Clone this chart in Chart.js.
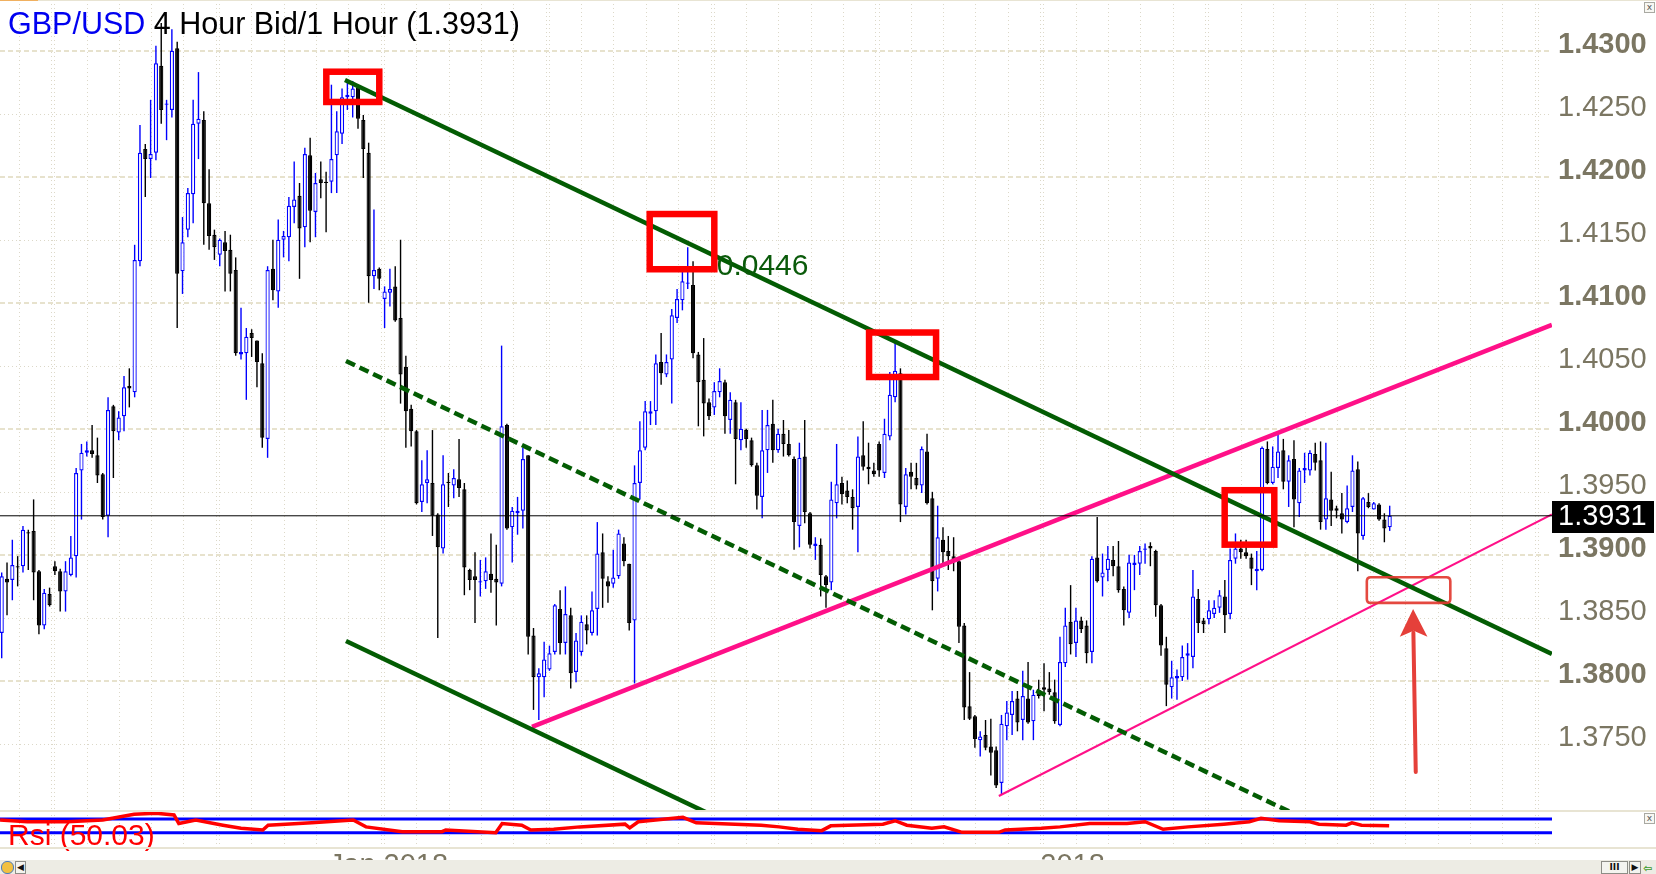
<!DOCTYPE html>
<html>
<head>
<meta charset="utf-8">
<title>GBP/USD 4 Hour</title>
<script src="https://cdn.jsdelivr.net/npm/chart.js@4.4.1/dist/chart.umd.min.js"></script>
<style>
  html, body { margin: 0; padding: 0; background: #fff; }
  #wrap { position: relative; width: 1656px; height: 874px; overflow: hidden; background: #fff; }
  canvas { position: absolute; left: 0; }
  #price { top: 0; }
  #rsi { top: 811px; }
  .sep { position: absolute; left: 0; width: 1656px; height: 2px; background: #e8e4d3; }
  #scroll { position: absolute; left: 0; top: 860px; width: 1656px; height: 14px; background: #edece4; }
  .btn { position: absolute; top: 1px; height: 11px; border: 1px solid #8d8d86; background: #f4f4ef;
         font: bold 9px "DejaVu Sans", sans-serif; color: #111; text-align: center; line-height: 11px; }
  .xbox { position: absolute; left: 1644px; width: 9px; height: 9px; border: 1px solid #a9a9a2; background: #f7f7f2;
          font: 9px "DejaVu Sans", sans-serif; line-height: 8px; text-align: center; color: #555; }
</style>
</head>
<body>
<div id="wrap">
  <canvas id="price" width="1656" height="811"></canvas>
  <canvas id="rsi" width="1656" height="63"></canvas>
  <div class="sep" style="top:0;height:1px"></div>
  <div class="sep" style="top:0;width:38px;height:1px;background:#f0b060"></div>
  <div class="sep" style="top:810px"></div>
  <div class="sep" style="top:847px"></div>
  <div class="xbox" style="top:2px">x</div>
  <div class="xbox" style="top:813px">x</div>
  <div id="scroll">
    <div style="position:absolute;left:1px;top:1px;width:11px;height:11px;border-radius:6px;background:#f2c040;border:1px solid #4a7cc0"></div>
    <div class="btn" style="left:15px;width:9px">&#9664;</div>
    <div class="btn" style="left:1601px;width:25px">III</div>
    <div class="btn" style="left:1629px;width:10px">&#9654;</div>
    <div style="position:absolute;left:1643px;top:2px;font:bold 11px 'DejaVu Sans';color:#3a9a2a">&#8678;</div>
  </div>
</div>
<script>
// ---- candles (4 hour) ----
const opens = [
  1.3838,1.3881,1.3880,1.3891,1.3891,1.3918,1.3919,1.3887,1.3844,1.3869,
  1.3891,1.3887,1.3871,1.3884,1.3899,1.3967,1.3981,1.3983,1.3979,1.3964,
  1.3931,1.4018,1.3997,1.4010,1.4034,1.4029,1.4133,1.4222,1.4214,1.4219,
  1.4288,1.4257,1.4253,1.4302,1.4125,1.4158,1.4186,1.4242,1.4245,1.4179,
  1.4154,1.4138,1.4148,1.4142,1.4126,1.4059,1.4060,1.4076,1.4070,1.4052,
  1.3992,1.4127,1.4109,1.4150,1.4152,1.4176,1.4185,1.4160,1.4217,1.4172,
  1.4198,1.4196,1.4196,1.4217,1.4234,1.4263,1.4263,1.4271,1.4245,1.4219,
  1.4121,1.4127,1.4103,1.4108,1.4113,1.4088,1.4049,1.4016,1.3998,1.3942,
  1.3957,1.3957,1.3932,1.3905,1.3958,1.3955,1.3960,1.3952,1.3888,1.3883,
  1.3878,1.3879,1.3885,1.3881,1.3877,1.4003,1.3922,1.3933,1.3935,1.3979,
  1.3836,1.3803,1.3803,1.3809,1.3823,1.3857,1.3830,1.3852,1.3807,1.3823,
  1.3845,1.3838,1.3857,1.3902,1.3879,1.3877,1.3883,1.3909,1.3893,1.3848,
  1.3957,1.3985,1.4012,1.4014,1.4053,1.4043,1.4055,1.4088,1.4102,1.4115,
  1.4114,1.4059,1.4039,1.4021,1.4017,1.4029,1.4037,1.4007,1.4021,1.3991,
  1.3999,1.3991,1.3971,1.3946,1.3983,1.4004,1.3983,1.3996,1.3988,1.3976,
  1.3923,1.3978,1.3933,1.3907,1.3908,1.3883,1.3878,1.3941,1.3957,1.3951,
  1.3946,1.3938,1.3979,1.3970,1.3967,1.3988,1.3965,1.3994,1.4025,1.4044,
  1.3938,1.3966,1.3961,1.3955,1.3982,1.3945,1.3881,1.3912,1.3903,1.3899,
  1.3895,1.3844,1.3780,1.3772,1.3753,1.3757,1.3748,1.3745,1.3719,1.3764,
  1.3773,1.3786,1.3769,1.3786,1.3768,1.3793,1.3795,1.3794,1.3791,1.3765,
  1.3814,1.3847,1.3830,1.3848,1.3844,1.3823,1.3898,1.3882,1.3888,1.3896,
  1.3891,1.3873,1.3854,1.3892,1.3893,1.3904,1.3907,1.3903,1.3860,1.3826,
  1.3795,1.3802,1.3803,1.3820,1.3819,1.3865,1.3848,1.3849,1.3853,1.3858,
  1.3867,1.3853,1.3897,1.3905,1.3902,1.3898,1.3887,1.3888,1.3984,1.3957,
  1.3969,1.3983,1.3958,1.3976,1.3941,1.3967,1.3967,1.3980,1.3975,1.3928,
  1.3944,1.3937,1.3933,1.3926,1.3938,1.3968,1.3915,1.3942,1.3936,1.3940,
  1.3928,1.3922
];
const highs = [
  1.3886,1.3894,1.3912,1.3899,1.3923,1.3920,1.3944,1.3888,1.3873,1.3874,
  1.3895,1.3889,1.3895,1.3915,1.3969,1.3988,1.3990,1.4003,1.3993,1.3965,
  1.4025,1.4019,1.4014,1.4042,1.4048,1.4146,1.4241,1.4226,1.4261,1.4304,
  1.4322,1.4261,1.4317,1.4307,1.4168,1.4191,1.4261,1.4283,1.4252,1.4206,
  1.4158,1.4151,1.4157,1.4154,1.4136,1.4096,1.4080,1.4079,1.4070,1.4060,
  1.4129,1.4150,1.4166,1.4157,1.4184,1.4212,1.4195,1.4223,1.4231,1.4203,
  1.4212,1.4204,1.4273,1.4252,1.4270,1.4277,1.4276,1.4273,1.4249,1.4227,
  1.4174,1.4128,1.4113,1.4127,1.4129,1.4150,1.4058,1.4019,1.3999,1.3975,
  1.3983,1.3999,1.3933,1.3979,1.3965,1.3968,1.3992,1.3957,1.3889,1.3902,
  1.3896,1.3898,1.3917,1.3908,1.4066,1.4004,1.3938,1.3946,1.3985,1.3979,
  1.3842,1.3810,1.3831,1.3828,1.3861,1.3872,1.3875,1.3858,1.3838,1.3852,
  1.3852,1.3871,1.3926,1.3917,1.3883,1.3904,1.3920,1.3914,1.3893,1.3971,
  1.4006,1.4022,1.4022,1.4059,1.4076,1.4059,1.4095,1.4111,1.4125,1.4144,
  1.4133,1.4061,1.4072,1.4024,1.4037,1.4048,1.4039,1.4029,1.4023,1.4021,
  1.4000,1.3993,1.3973,1.4015,1.4015,1.4023,1.4000,1.4007,1.3999,1.3978,
  1.3989,1.4007,1.3934,1.3914,1.3913,1.3884,1.3958,1.3988,1.3962,1.3959,
  1.3952,1.3994,1.4006,1.3989,1.3973,1.3990,1.4008,1.4045,1.4068,1.4048,
  1.3969,1.3973,1.3973,1.3986,1.3996,1.3950,1.3939,1.3922,1.3915,1.3914,
  1.3896,1.3846,1.3807,1.3773,1.3760,1.3769,1.3770,1.3748,1.3773,1.3784,
  1.3792,1.3792,1.3808,1.3815,1.3793,1.3801,1.3814,1.3807,1.3801,1.3835,
  1.3858,1.3876,1.3858,1.3851,1.3848,1.3899,1.3930,1.3901,1.3907,1.3907,
  1.3911,1.3875,1.3900,1.3900,1.3907,1.3909,1.3910,1.3904,1.3861,1.3835,
  1.3816,1.3809,1.3828,1.3830,1.3888,1.3873,1.3850,1.3864,1.3864,1.3872,
  1.3880,1.3905,1.3917,1.3912,1.3912,1.3901,1.3903,1.3986,1.3990,1.3986,
  1.3996,1.3992,1.3979,1.3991,1.3969,1.3981,1.3983,1.3989,1.3990,1.3989,
  1.3966,1.3939,1.3949,1.3955,1.3979,1.3974,1.3946,1.3949,1.3942,1.3941,
  1.3933,1.3939
];
const lows = [
  1.3818,1.3852,1.3864,1.3875,1.3886,1.3888,1.3864,1.3837,1.3841,1.3859,
  1.3884,1.3855,1.3855,1.3883,1.3882,1.3928,1.3978,1.3977,1.3957,1.3928,
  1.3914,1.3961,1.3991,1.3998,1.4017,1.4025,1.4129,1.4184,1.4199,1.4213,
  1.4242,1.4229,1.4247,1.4080,1.4107,1.4152,1.4163,1.4214,1.4146,1.4142,
  1.4134,1.4129,1.4109,1.4109,1.4058,1.4055,1.4023,1.4057,1.4033,1.3985,
  1.3977,1.4102,1.4096,1.4136,1.4133,1.4163,1.4119,1.4144,1.4148,1.4152,
  1.4183,1.4156,1.4187,1.4187,1.4226,1.4253,1.4247,1.4238,1.4199,1.4100,
  1.4111,1.4110,1.4080,1.4097,1.4085,1.4020,1.3985,1.3986,1.3940,1.3934,
  1.3941,1.3915,1.3834,1.3901,1.3938,1.3945,1.3946,1.3868,1.3872,1.3846,
  1.3867,1.3873,1.3870,1.3844,1.3875,1.3920,1.3894,1.3916,1.3921,1.3821,
  1.3777,1.3769,1.3787,1.3808,1.3821,1.3821,1.3821,1.3794,1.3799,1.3820,
  1.3829,1.3836,1.3836,1.3858,1.3862,1.3874,1.3881,1.3891,1.3840,1.3798,
  1.3944,1.3983,1.4003,1.4003,1.4035,1.4041,1.4020,1.4084,1.4094,1.4111,
  1.4056,1.4002,1.3994,1.4007,1.4011,1.4025,1.3996,1.3996,1.3956,1.3983,
  1.3985,1.3970,1.3936,1.3929,1.3965,1.3973,1.3981,1.3978,1.3978,1.3904,
  1.3906,1.3925,1.3905,1.3896,1.3867,1.3858,1.3872,1.3929,1.3940,1.3941,
  1.3920,1.3902,1.3967,1.3956,1.3962,1.3962,1.3961,1.3991,1.4021,1.3926,
  1.3932,1.3952,1.3952,1.3949,1.3940,1.3856,1.3871,1.3892,1.3888,1.3887,
  1.3830,1.3769,1.3769,1.3747,1.3740,1.3745,1.3725,1.3715,1.3710,1.3753,
  1.3757,1.3760,1.3753,1.3766,1.3753,1.3786,1.3776,1.3789,1.3766,1.3764,
  1.3811,1.3821,1.3819,1.3838,1.3814,1.3814,1.3878,1.3867,1.3879,1.3883,
  1.3870,1.3844,1.3850,1.3872,1.3884,1.3893,1.3891,1.3851,1.3820,1.3780,
  1.3786,1.3785,1.3800,1.3801,1.3810,1.3838,1.3838,1.3845,1.3850,1.3854,
  1.3838,1.3849,1.3893,1.3897,1.3897,1.3876,1.3872,1.3887,1.3956,1.3956,
  1.3961,1.3952,1.3938,1.3922,1.3930,1.3957,1.3963,1.3967,1.3920,1.3920,
  1.3923,1.3929,1.3917,1.3925,1.3934,1.3887,1.3912,1.3937,1.3936,1.3927,
  1.3910,1.3919
];
const closes = [
  1.3883,1.3878,1.3892,1.3890,1.3920,1.3917,1.3886,1.3844,1.3870,1.3860,
  1.3887,1.3871,1.3887,1.3898,1.3965,1.3981,1.3983,1.3980,1.3963,1.3930,
  1.4015,1.3998,1.4009,1.4033,1.4032,1.4134,1.4219,1.4214,1.4218,1.4290,
  1.4253,1.4258,1.4300,1.4123,1.4148,1.4187,1.4242,1.4246,1.4179,1.4153,
  1.4144,1.4150,1.4141,1.4123,1.4060,1.4061,1.4073,1.4072,1.4053,1.3993,
  1.4126,1.4110,1.4150,1.4153,1.4177,1.4182,1.4159,1.4218,1.4173,1.4195,
  1.4195,1.4195,1.4214,1.4236,1.4263,1.4265,1.4270,1.4246,1.4222,1.4121,
  1.4126,1.4119,1.4109,1.4111,1.4086,1.4043,1.4014,1.3998,1.3941,1.3956,
  1.3960,1.3931,1.3906,1.3956,1.3957,1.3961,1.3953,1.3890,1.3880,1.3880,
  1.3879,1.3887,1.3880,1.3878,1.4002,1.3921,1.3935,1.3935,1.3976,1.3835,
  1.3803,1.3806,1.3817,1.3822,1.3860,1.3830,1.3853,1.3806,1.3832,1.3847,
  1.3840,1.3856,1.3901,1.3881,1.3875,1.3882,1.3917,1.3895,1.3846,1.3957,
  1.3983,1.4014,1.4014,1.4052,1.4044,1.4053,1.4090,1.4103,1.4117,1.4116,
  1.4060,1.4037,1.4020,1.4010,1.4030,1.4038,1.4010,1.4023,1.3992,1.4000,
  1.3992,1.3971,1.3947,1.3983,1.4003,1.3983,1.3996,1.3988,1.3979,1.3926,
  1.3977,1.3934,1.3908,1.3909,1.3884,1.3876,1.3944,1.3956,1.3948,1.3946,
  1.3937,1.3978,1.3970,1.3968,1.3964,1.3967,1.3996,1.4027,1.4046,1.3940,
  1.3964,1.3962,1.3955,1.3984,1.3941,1.3879,1.3914,1.3902,1.3899,1.3895,
  1.3843,1.3779,1.3770,1.3754,1.3756,1.3747,1.3743,1.3717,1.3766,1.3775,
  1.3784,1.3767,1.3788,1.3767,1.3789,1.3788,1.3793,1.3791,1.3768,1.3815,
  1.3844,1.3829,1.3848,1.3841,1.3822,1.3897,1.3879,1.3886,1.3897,1.3891,
  1.3872,1.3856,1.3894,1.3894,1.3903,1.3905,1.3905,1.3860,1.3828,1.3797,
  1.3803,1.3804,1.3819,1.3822,1.3867,1.3846,1.3845,1.3856,1.3858,1.3868,
  1.3852,1.3896,1.3905,1.3902,1.3899,1.3889,1.3889,1.3985,1.3957,1.3970,
  1.3982,1.3958,1.3975,1.3944,1.3967,1.3969,1.3981,1.3973,1.3926,1.3945,
  1.3935,1.3935,1.3928,1.3937,1.3967,1.3917,1.3945,1.3938,1.3941,1.3928,
  1.3921,1.3931
];

// ---- price axis ----
const priceTicks = [1.4300, 1.4250, 1.4200, 1.4150, 1.4100, 1.4050, 1.4000, 1.3950, 1.3900, 1.3850, 1.3800, 1.3750];
const tickLabels = ['1.4300', '1.4250', '1.4200', '1.4150', '1.4100', '1.4050', '1.4000', '1.3950', '1.3900', '1.3850', '1.3800', '1.3750'];

// ---- time axis labels (candle index where the label starts) ----
const xLabelPos = [61.5, 195.3];
const xLabels = ['Jan 2018', '2018'];

// ---- drawn trend lines: [candle index, price] ----
const channelUpper = [[64.55, 1.42768], [291.5, 1.38214]];
const channelLower = [[64.74, 1.38317], [142.6, 1.36754]];
const channelMid = [[64.74, 1.40538], [247.9, 1.36847]];
const pinkUpper = [[99.72, 1.37635], [291.5, 1.40824]];
const pinkLower = [[187.5, 1.37087], [291.5, 1.39321]];

// red marker squares: [first index, last index, top price, bottom price]
const redBoxes = [
  [61.04, 71.00, 1.42833, 1.42593],
  [121.85, 134.0, 1.41704, 1.41266],
  [163.1, 175.7, 1.40764, 1.40411],
  [229.97, 239.3, 1.39513, 1.39081]
];
const crossBox = [256.7, 272.4, 1.38822, 1.38619];
const arrowTail = [265.9, 1.37278];
const arrowTip = [265.4, 1.38571];
const arrowBase = [262.9, 268.1, 1.38351];
const rangeText = '0.0446';
const rangeTextAt = [134.45, 1.41221];

// ---- RSI (14) panel ----
const rsiIdx = [-0.3, 4.8, 12.3, 19, 24.9, 29, 32.4, 33.3, 36.5, 41.6, 45, 49.1, 50.1, 58.3, 66.1, 68.5,
  75.3, 82.8, 83.5, 92.9, 94.1, 97.8, 99.5, 103.8, 108.7, 117.2, 118.1, 119.7, 128.1, 130.6, 142.8, 146.2,
  149.7, 154.2, 155.9, 165.7, 168, 170.2, 174.9, 177.2, 180.6, 187.5, 188.7, 195.5, 199, 204.6, 211.6, 215,
  218.4, 223.1, 229.8, 234.6, 236.8, 240.2, 246, 247.7, 252.8, 253.9, 255.7, 260.9];
const rsiVals = [67, 62, 62, 67, 84, 87, 82, 57, 67, 52, 43, 38, 52, 59, 67, 47,
  33, 33, 38, 30, 57, 52, 38, 40, 47, 55, 44, 62, 75, 59, 52, 47,
  40, 36, 50, 55, 65, 52, 43, 47, 31, 31, 38, 43, 47, 57, 57, 62,
  40, 47, 55, 62, 72, 65, 62, 55, 52, 59, 52, 50];
const rsiLevels = [70, 30];
const rsiLast = 50.03;

// ---------------------------------------------------------------
const FONT = '"Liberation Sans", Arial, sans-serif';
const BLUE = '#0000ff';
const GREEN = '#035c03';
const PINK = '#ff1088';
const AXIS_TEXT = '#7b7662';
const X_MIN = -0.32, X_MAX = 291.52;
const Y_MIN = 1.36968, Y_MAX = 1.43402;
const lastClose = closes[closes.length - 1];
const idx = opens.map((_, i) => i);
const isUp = closes.map((c, i) => c >= opens[i]);
const isMajor = v => Math.abs(v * 100 - Math.round(v * 100)) < 1e-6;

// daily / weekly separators (weeks of 31 candles, days of ~6)
function dayLines() {
  const out = [];
  for (let w = 71.3 - 3 * 31; w < X_MAX; w += 31) {
    out.push(w);
    for (let j = 0; j < 5; j++) out.push(w + 0.6 + j * 6.07);
  }
  return out.filter(v => v > X_MIN && v < X_MAX);
}

function drawVGrid(chart) {
  const {ctx, chartArea: a, scales: {x}} = chart;
  ctx.save();
  ctx.strokeStyle = '#dcd8c8';
  ctx.lineWidth = 1;
  ctx.setLineDash([1, 3]);
  dayLines().forEach(v => {
    const px = Math.round(x.getPixelForValue(v)) + 0.5;
    ctx.beginPath(); ctx.moveTo(px, a.top); ctx.lineTo(px, a.bottom); ctx.stroke();
  });
  ctx.restore();
}

function lineSet(pts, color, width, dash) {
  return {
    type: 'line', data: pts.map(([x, y]) => ({x, y})), borderColor: color, borderWidth: width,
    borderDash: dash || [], pointRadius: 0, fill: false, tension: 0, order: 1, borderCapStyle: 'butt'
  };
}

const priceDecor = {
  id: 'priceDecor',
  beforeDatasetsDraw(chart) {
    const {ctx, chartArea: a, scales: {y}} = chart;
    drawVGrid(chart);
    ctx.save();
    priceTicks.forEach(v => {
      const py = Math.round(y.getPixelForValue(v));
      ctx.beginPath();
      if (isMajor(v)) {
        ctx.setLineDash([5, 3]); ctx.lineWidth = 2; ctx.strokeStyle = '#e7e2cd';
        ctx.moveTo(a.left, py); ctx.lineTo(a.right, py);
      } else {
        ctx.setLineDash([1, 3]); ctx.lineWidth = 1; ctx.strokeStyle = '#dcd8c8';
        ctx.moveTo(a.left, py + 0.5); ctx.lineTo(a.right, py + 0.5);
      }
      ctx.stroke();
    });
    ctx.setLineDash([]);
    // title
    ctx.font = '30.5px ' + FONT;
    ctx.textBaseline = 'alphabetic';
    ctx.textAlign = 'left';
    ctx.fillStyle = '#0000f0';
    ctx.fillText('GBP/USD', 8, 34);
    const w = ctx.measureText('GBP/USD').width;
    ctx.fillStyle = '#000';
    ctx.fillText(' 4 Hour Bid/1 Hour (' + lastClose.toFixed(4) + ')', 8 + w, 34);
    ctx.restore();
  },
  afterDatasetsDraw(chart) {
    const {ctx, scales: {x, y}} = chart;
    ctx.save();
    // channel width label
    ctx.font = '30px ' + FONT;
    ctx.fillStyle = '#0a5a0a';
    ctx.textBaseline = 'alphabetic';
    ctx.fillText(rangeText, x.getPixelForValue(rangeTextAt[0]), y.getPixelForValue(rangeTextAt[1]));
    // red squares
    ctx.strokeStyle = '#ff0000';
    ctx.lineWidth = 6.5;
    redBoxes.forEach(([i0, i1, pt, pb]) => {
      const x0 = x.getPixelForValue(i0), x1 = x.getPixelForValue(i1);
      const y0 = y.getPixelForValue(pt), y1 = y.getPixelForValue(pb);
      ctx.strokeRect(x0, y0, x1 - x0, y1 - y0);
    });
    // rounded box at the crossing
    const [c0, c1, ct, cb] = crossBox;
    const bx0 = x.getPixelForValue(c0), bx1 = x.getPixelForValue(c1);
    const by0 = y.getPixelForValue(ct), by1 = y.getPixelForValue(cb);
    const r = 4;
    ctx.strokeStyle = 'rgba(226,58,48,0.92)';
    ctx.lineWidth = 2.6;
    ctx.beginPath();
    ctx.moveTo(bx0 + r, by0); ctx.lineTo(bx1 - r, by0); ctx.quadraticCurveTo(bx1, by0, bx1, by0 + r);
    ctx.lineTo(bx1, by1 - r); ctx.quadraticCurveTo(bx1, by1, bx1 - r, by1);
    ctx.lineTo(bx0 + r, by1); ctx.quadraticCurveTo(bx0, by1, bx0, by1 - r);
    ctx.lineTo(bx0, by0 + r); ctx.quadraticCurveTo(bx0, by0, bx0 + r, by0);
    ctx.stroke();
    // arrow
    const tx = x.getPixelForValue(arrowTail[0]), ty = y.getPixelForValue(arrowTail[1]);
    const hx = x.getPixelForValue(arrowTip[0]), hy = y.getPixelForValue(arrowTip[1]);
    const bl = x.getPixelForValue(arrowBase[0]), br = x.getPixelForValue(arrowBase[1]);
    const by = y.getPixelForValue(arrowBase[2]);
    ctx.strokeStyle = '#e5403a';
    ctx.fillStyle = '#e5403a';
    ctx.lineWidth = 4;
    ctx.lineCap = 'round';
    ctx.beginPath(); ctx.moveTo(tx, ty); ctx.lineTo(hx + 0.3, by - 4); ctx.stroke();
    ctx.beginPath();
    ctx.moveTo(hx, hy); ctx.lineTo(br, by); ctx.lineTo((bl + br) / 2, by - 6); ctx.lineTo(bl, by);
    ctx.closePath(); ctx.fill();
    ctx.restore();
  },
  afterDraw(chart) {
    const {ctx, chartArea: a, scales: {y}} = chart;
    const py = y.getPixelForValue(lastClose);
    ctx.save();
    ctx.fillStyle = '#000';
    ctx.fillRect(a.right, Math.round(py) - 15, 102, 32);
    ctx.fillStyle = '#fff';
    ctx.font = '29px ' + FONT;
    ctx.textBaseline = 'middle';
    ctx.textAlign = 'left';
    ctx.fillText(lastClose.toFixed(4), a.right + 6, py + 1);
    ctx.restore();
  }
};

new Chart(document.getElementById('price'), {
  type: 'bar',
  data: {
    datasets: [
      { label: 'wick', data: idx.map(i => ({x: i, y: [lows[i], highs[i]]})),
        backgroundColor: isUp.map(u => u ? BLUE : '#000'), borderWidth: 0,
        barThickness: 1.4, grouped: false, inflateAmount: 0, order: 5 },
      { label: 'body', data: idx.map(i => ({x: i, y: [opens[i], closes[i]]})),
        backgroundColor: isUp.map(u => u ? '#fff' : '#000'), borderColor: isUp.map(u => u ? BLUE : '#000'),
        borderWidth: 1.25, borderSkipped: false, barThickness: 4.2, minBarLength: 1,
        grouped: false, inflateAmount: 0, order: 4 },
      lineSet(channelUpper, GREEN, 4.5),
      lineSet(channelLower, GREEN, 4.5),
      lineSet(channelMid, GREEN, 4.5, [10, 5]),
      lineSet(pinkUpper, PINK, 4.5),
      lineSet(pinkLower, PINK, 2),
      Object.assign(lineSet([[X_MIN, lastClose], [X_MAX, lastClose]], '#000', 1), {order: 0})
    ]
  },
  options: {
    responsive: false, animation: false, events: [],
    layout: { padding: 0 },
    plugins: { legend: { display: false }, tooltip: { enabled: false } },
    scales: {
      x: { type: 'linear', min: X_MIN, max: X_MAX, display: false, offset: false },
      y: {
        type: 'linear', position: 'right', min: Y_MIN, max: Y_MAX,
        grid: { display: false, drawTicks: false }, border: { display: false },
        afterBuildTicks: s => { s.ticks = priceTicks.map(v => ({value: v})); },
        afterFit: s => { s.width = 104; s.paddingTop = 0; s.paddingBottom = 0; },
        ticks: {
          autoSkip: false, padding: 6, labelOffset: -6, color: AXIS_TEXT,
          font: c => ({ family: FONT, size: 29, weight: (c.tick && isMajor(c.tick.value)) ? 'bold' : 'normal' }),
          callback: (v, i) => tickLabels[i]
        }
      }
    }
  },
  plugins: [priceDecor]
});

const rsiDecor = {
  id: 'rsiDecor',
  beforeDatasetsDraw(chart) { drawVGrid(chart); },
  afterDatasetsDraw(chart) {
    const {ctx} = chart;
    ctx.save();
    ctx.font = '30px ' + FONT;
    ctx.fillStyle = '#ff0000';
    ctx.textBaseline = 'alphabetic';
    ctx.fillText('Rsi (' + rsiLast.toFixed(2) + ')', 8, 34);
    ctx.restore();
  }
};

new Chart(document.getElementById('rsi'), {
  type: 'line',
  data: {
    datasets: [
      ...rsiLevels.map(l => ({
        data: [{x: X_MIN, y: l}, {x: X_MAX, y: l}], borderColor: BLUE, borderWidth: 3,
        pointRadius: 0, fill: false, order: 2
      })),
      { data: rsiIdx.map((v, i) => ({x: v, y: rsiVals[i]})), borderColor: '#ff0000', borderWidth: 3.5,
        pointRadius: 0, fill: false, tension: 0, order: 1 }
    ]
  },
  options: {
    responsive: false, animation: false, events: [],
    layout: { padding: 0 },
    plugins: { legend: { display: false }, tooltip: { enabled: false } },
    scales: {
      x: {
        type: 'linear', min: X_MIN, max: X_MAX, offset: false,
        grid: { display: false, drawTicks: false }, border: { display: false },
        afterBuildTicks: s => { s.ticks = xLabelPos.map(v => ({value: v})); },
        afterFit: s => { s.height = 26; s.paddingLeft = 0; s.paddingRight = 0; },
        ticks: {
          autoSkip: false, maxRotation: 0, align: 'start', padding: 1, color: AXIS_TEXT,
          font: { family: FONT, size: 29 }, callback: (v, i) => xLabels[i]
        }
      },
      y: {
        type: 'linear', position: 'right', min: -14.7, max: 93.4,
        grid: { display: false, drawTicks: false }, border: { display: false },
        ticks: { display: false },
        afterFit: s => { s.width = 104; s.paddingTop = 0; s.paddingBottom = 0; }
      }
    }
  },
  plugins: [rsiDecor]
});
</script>
</body>
</html>
